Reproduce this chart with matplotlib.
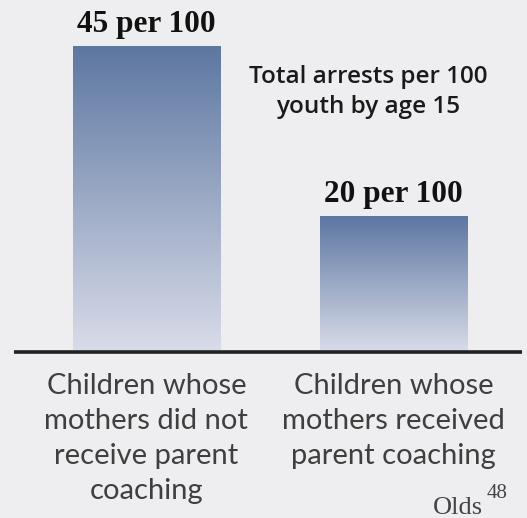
import numpy as np
import matplotlib
matplotlib.use("Agg")
import matplotlib.pyplot as plt
from matplotlib.colors import LinearSegmentedColormap

categories = ["Children whose\nmothers did not\nreceive parent\ncoaching",
              "Children whose\nmothers received\nparent coaching"]
values = [45, 20]
value_labels = ["45 per 100", "20 per 100"]
title_text = "Total arrests per 100\nyouth by age 15"
source = "Olds"
source_sup = "48"

BG = "#eeeef0"
W, H = 527, 518
fig = plt.figure(figsize=(W / 100, H / 100), dpi=100, facecolor=BG)

def fx(px):
    return px / W

def fy(py):
    return 1 - py / H

base_py = 352
top_py = 46
ax = fig.add_axes([fx(14), fy(base_py), fx(522) - fx(14), (base_py - top_py) / H])
ax.set_facecolor(BG)
ax.patch.set_alpha(0)
ax.axis("off")

cmap = LinearSegmentedColormap.from_list("g", ["#d9dce9", "#5d77a1"])
grad = np.linspace(0, 1, 256).reshape(-1, 1)
bw = 147 / 247
x = np.arange(len(values))
bars = ax.bar(x, values, width=bw, color="none", edgecolor="none")
for b in bars:
    x0, y0 = b.get_x(), b.get_y()
    im = ax.imshow(grad, cmap=cmap, origin="lower", aspect="auto",
                   extent=[x0, x0 + b.get_width(), y0, y0 + b.get_height()],
                   zorder=1)
    im.set_clip_path(b)
ax.set_xlim(-0.536, 1.520)
ax.set_ylim(0, max(values))

ax.plot([0, 1], [0, 0], transform=ax.transAxes, color="#222222", lw=2.6,
        clip_on=False, solid_capstyle="butt", zorder=3)

for xi, v, lab in zip(x, values, value_labels):
    ax.annotate(lab, (xi, v), xytext=(0, 10), textcoords="offset points",
                ha="center", va="baseline", fontsize=22.5, fontweight="bold",
                family="Liberation Serif", color="#111111")

fig.text(fx(368), fy(113), title_text, ha="center", va="baseline",
         fontsize=17.5, fontweight="semibold", family="Open Sans",
         color="#1a1a1a", linespacing=1.35, multialignment="center")

for xi, c in zip(x, categories):
    ax.annotate(c, (xi, 0), xytext=(0, -15), textcoords="offset points",
                ha="center", va="top", fontsize=21, family="Lato",
                color="#3f3f3f", linespacing=1.43, multialignment="center")

fig.text(fx(483), fy(514), source, ha="right", va="baseline", fontsize=19,
         family="Liberation Serif", color="#444444")
fig.text(fx(487), fy(498), source_sup, ha="left", va="baseline", fontsize=15,
         family="Liberation Serif", color="#444444")

fig.savefig("out.png", dpi=100, facecolor=BG)
